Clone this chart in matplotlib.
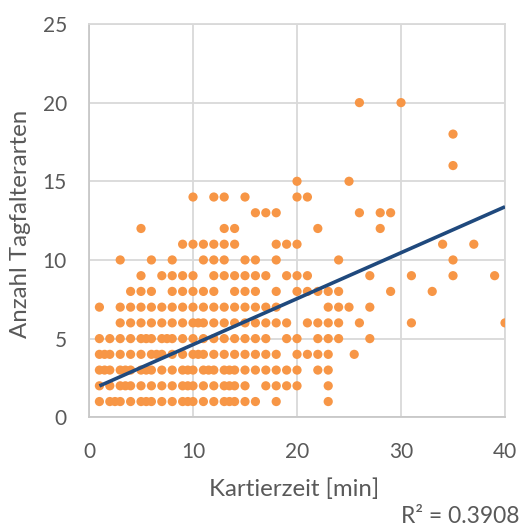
import matplotlib
matplotlib.use("Agg")
import matplotlib.pyplot as plt
import numpy as np

# x positions (Kartierzeit) of the points in each y row (Anzahl Tagfalterarten)
x_y1 = [1, 2, 2.5, 3, 4, 5, 5.5, 6, 7, 8, 9, 9.5, 10, 11, 12, 13, 13.5, 14, 15, 16, 18, 23]
x_y2 = [1, 2, 3, 3.5, 4, 5, 6, 7, 8, 9, 9.5, 10, 11, 12, 13, 13.5, 14, 15, 17, 18, 19, 20, 23]
x_y3 = [1, 1.5, 2, 3, 3.5, 4, 5, 5.5, 6, 7, 8, 9, 9.5, 10, 11, 11.5, 12, 13, 13.5, 14, 15, 16,
        17, 18, 19, 20, 22, 23]
x_y4 = [1, 1.5, 2, 3, 4, 5, 6, 6.5, 7, 8, 9, 10, 10.5, 11, 12, 13, 14, 15, 16, 17, 18, 20, 21,
        22, 23, 25.5]
x_y5 = [1, 2, 3, 4, 5, 5.5, 6, 7, 7.5, 8, 9, 10, 11, 12, 13, 14, 15, 16, 17, 19, 20, 22, 23, 24, 27]
x_y6 = [3, 4, 5, 6, 7, 8, 9, 10, 10.5, 11, 12, 13, 14, 15, 16, 17, 18, 19, 21, 22, 23, 24, 26, 31, 40]
x_y7 = [1, 3, 4, 5, 6, 7, 8, 9, 10, 11, 12, 13, 14, 15, 16, 17, 18, 23, 24, 25, 27]
x_y8 = [4, 5, 6, 8, 9, 10, 11, 12, 14, 15, 16, 18, 20, 21, 22, 23, 24, 29, 33]
x_y9 = [5, 7, 8, 9, 10, 12, 13, 14, 15, 16, 17, 19, 20, 21, 27, 31, 35, 39]
x_y10 = [3, 6, 8, 11, 12, 13, 15, 16, 18, 24, 35]
x_y11 = [9, 10, 11, 12, 13, 14, 18, 19, 20, 34, 37]
x_y12 = [5, 13, 14, 22, 28]
x_y13 = [16, 17, 18, 26, 28, 29]
x_y14 = [10, 12, 13, 15, 20, 21]
x_y15 = [20, 25]
x_y16 = [35]
x_y18 = [35]
x_y20 = [26, 30]

rows = {1: x_y1, 2: x_y2, 3: x_y3, 4: x_y4, 5: x_y5, 6: x_y6, 7: x_y7, 8: x_y8, 9: x_y9,
        10: x_y10, 11: x_y11, 12: x_y12, 13: x_y13, 14: x_y14, 15: x_y15, 16: x_y16,
        18: x_y18, 20: x_y20}
xs = []
ys = []
for yv, xl in rows.items():
    xs.extend(xl)
    ys.extend([yv] * len(xl))

# linear trend line
trend_slope = 0.292
trend_intercept = 1.70
trend_x = [1, 40]
r2_text = "R² = 0.3908"

x_ticks = [0, 10, 20, 30, 40]
y_ticks = [0, 5, 10, 15, 20, 25]

plt.rcParams['font.family'] = ['Lato', 'DejaVu Sans']
txt_color = '#595959'
grid_color = '#d9d9d9'

fig = plt.figure(figsize=(5.27, 5.29), dpi=100)
ax = fig.add_axes([0.1689, 0.2112, 0.7894, 0.7435])

ax.scatter(xs, ys, s=44, color='#F79646', edgecolors='none', zorder=3)
tx = np.array(trend_x, dtype=float)
ax.plot(tx, trend_slope * tx + trend_intercept, color='#1F497D', lw=2.6,
        solid_capstyle='butt', zorder=4)

ax.set_xlim(0, 40)
ax.set_ylim(0, 25)
ax.set_xticks(x_ticks)
ax.set_yticks(y_ticks)
ax.grid(True, color=grid_color, lw=1.3, zorder=0)
ax.set_axisbelow(True)
for side in ['top', 'right']:
    ax.spines[side].set_color(grid_color)
    ax.spines[side].set_linewidth(1.3)
for side in ['left', 'bottom']:
    ax.spines[side].set_color('#c8c8c8')
    ax.spines[side].set_linewidth(1.3)

ax.tick_params(axis='both', length=0, labelsize=15, labelcolor=txt_color)
ax.tick_params(axis='y', pad=16)
ax.tick_params(axis='x', pad=18)

fig.text(0.558, 0.0756, "Kartierzeit [min]", ha='center', va='center',
         fontsize=17.3, color=txt_color)
fig.text(0.038, 0.577, "Anzahl Tagfalterarten", ha='center', va='center',
         rotation=90, fontsize=17.3, color=txt_color)
fig.text(0.9867, 0.0227, r2_text, ha='right', va='center', fontsize=16.5, color=txt_color)

fig.savefig("out.png", dpi=100)
